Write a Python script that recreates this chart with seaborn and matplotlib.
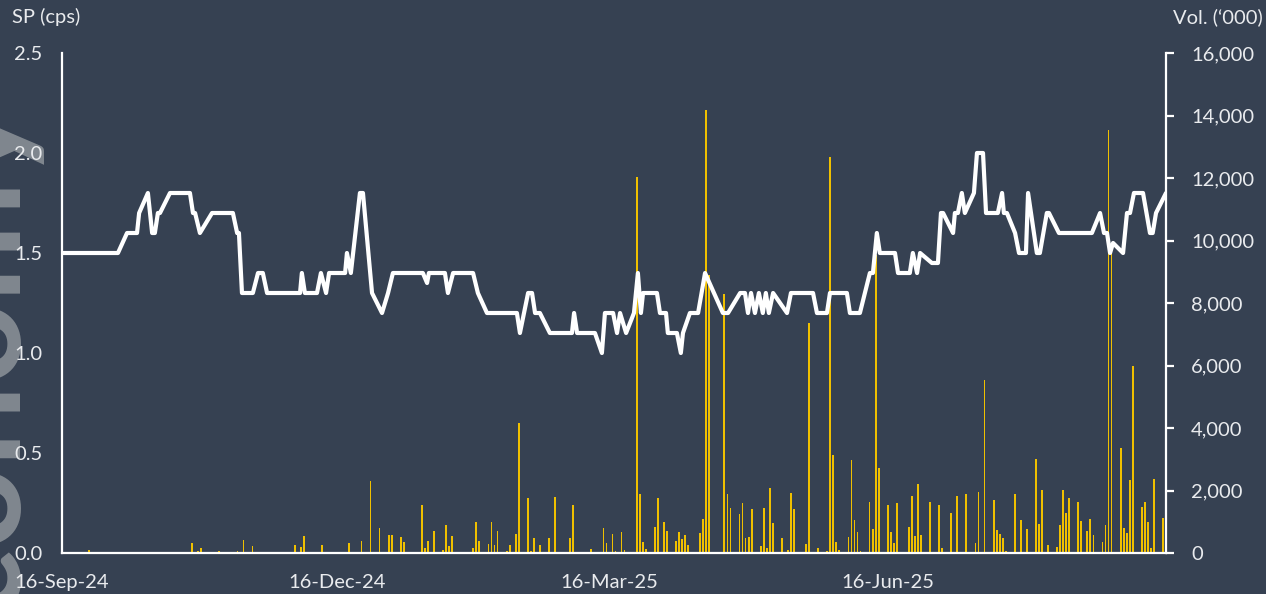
import numpy as np
import pandas as pd
import matplotlib
matplotlib.use("Agg")
import matplotlib.pyplot as plt
import seaborn as sns

# ---------------- data ----------------
start_date = "2024-09-16"

# share price vertices: day offset from 16-Sep-24, price in cents
price_day = [0, 18.5, 21.5, 24.8, 25.5, 28.4, 29.8, 30.7, 31.7, 32.4, 35.7, 42.3, 43.3, 44.0,
             45.6, 49.6, 56.5, 57.9, 58.5, 59.5, 63.1, 64.8, 66.4, 67.8, 78.7, 79.3, 80.3,
             84.3, 85.6, 87.3, 88.3, 93.6, 94.2, 95.5, 98.5, 99.5, 102.5, 105.8, 107.8,
             109.4, 119.3, 120.7, 121.3, 126.6, 127.6, 129.3, 135.9, 137.5, 140.5, 150.4,
             151.4, 154.1, 155.4, 156.4, 158.0, 161.3, 168.6, 169.3, 170.3, 176.2, 178.5,
             179.5, 182.2, 183.5, 184.5, 186.5, 189.1, 190.4, 191.4, 192.1, 196.7, 197.7,
             199.7, 200.3, 203.3, 204.6, 205.3, 207.6, 210.3, 212.6, 218.5, 220.2, 224.2,
             225.8, 226.8, 227.8, 229.1, 230.4, 231.7, 232.7, 233.7, 235.1, 239.7, 241.0,
             248.3, 249.6, 252.9, 253.9, 259.5, 260.5, 263.8, 267.1, 268.1, 269.4, 270.4,
             275.4, 276.4, 280.3, 281.3, 282.7, 283.7, 287.6, 289.6, 290.6, 291.3, 294.6,
             295.2, 296.2, 297.5, 298.5, 301.5, 302.5, 304.5, 305.5, 309.4, 310.8, 311.4,
             312.4, 315.1, 316.4, 318.7, 319.4, 322.3, 323.3, 325.6, 326.3, 329.6, 340.5,
             343.2, 344.5, 345.5, 346.5, 347.5, 350.8, 352.1, 353.1, 354.4, 357.4, 359.7,
             360.6, 361.7, 365.0]
price_cps = [1.5, 1.5, 1.6, 1.6, 1.7, 1.8, 1.6, 1.6, 1.7, 1.7, 1.8, 1.8, 1.7, 1.7,
             1.6, 1.7, 1.7, 1.6, 1.6, 1.3, 1.3, 1.4, 1.4, 1.3, 1.3, 1.4, 1.3,
             1.3, 1.4, 1.3, 1.4, 1.4, 1.5, 1.4, 1.8, 1.8, 1.3, 1.2, 1.3,
             1.4, 1.4, 1.35, 1.4, 1.4, 1.3, 1.4, 1.4, 1.3, 1.2, 1.2,
             1.1, 1.3, 1.3, 1.2, 1.2, 1.1, 1.1, 1.2, 1.1, 1.1, 1.0,
             1.2, 1.2, 1.1, 1.2, 1.1, 1.2, 1.4, 1.2, 1.3, 1.3, 1.2,
             1.2, 1.1, 1.1, 1.0, 1.1, 1.2, 1.2, 1.4, 1.2, 1.2, 1.3,
             1.3, 1.2, 1.3, 1.2, 1.3, 1.2, 1.3, 1.2, 1.3, 1.2, 1.3,
             1.3, 1.2, 1.2, 1.3, 1.3, 1.2, 1.2, 1.4, 1.4, 1.6, 1.5,
             1.5, 1.4, 1.4, 1.5, 1.4, 1.5, 1.45, 1.45, 1.7, 1.7, 1.6,
             1.7, 1.7, 1.8, 1.7, 1.8, 2.0, 2.0, 1.7, 1.7, 1.8, 1.7,
             1.7, 1.6, 1.5, 1.5, 1.8, 1.5, 1.5, 1.7, 1.7, 1.6, 1.6,
             1.7, 1.6, 1.6, 1.5, 1.55, 1.5, 1.7, 1.7, 1.8, 1.8, 1.6,
             1.6, 1.7, 1.8]

# daily volume ('000 shares): day offset and volume
vol_day = [0, 9, 25, 28, 43, 45, 46, 50, 52, 58, 60, 63, 77, 79, 80, 86, 95, 99, 102, 105,
           108, 109, 112, 113, 119, 120, 121, 123, 126, 127, 128, 129, 136, 137, 138, 141,
           142, 143, 144, 147, 148, 150, 151, 154, 155, 156, 158, 161, 163, 168, 169, 175,
           179, 180, 182, 183, 185, 186, 190, 191, 192, 193, 196, 197, 199, 200, 203, 204,
           205, 206, 207, 211, 212, 213, 214, 219, 220, 221, 224, 225, 226, 227, 228, 231,
           232, 233, 234, 235, 238, 240, 241, 242, 246, 247, 250, 253, 254, 255, 256, 257,
           260, 261, 262, 263, 264, 267, 268, 269, 270, 273, 274, 275, 276, 280, 281, 282,
           283, 284, 287, 289, 290, 291, 294, 296, 299, 302, 303, 305, 308, 309, 310, 311,
           312, 315, 317, 319, 322, 323, 324, 326, 329, 330, 331, 332, 333, 336, 337, 339,
           340, 341, 344, 345, 346, 347, 350, 351, 352, 353, 354, 357, 358, 359, 360, 361,
           364]
vol_k = [40, 90, 30, 30, 320, 60, 160, 30, 60, 50, 430, 230, 260, 190, 550, 270, 320, 400,
         2300, 800, 590, 590, 510, 340, 1540, 160, 370, 700, 90, 900, 230, 530, 160, 1000,
         400, 300, 1000, 270, 700, 60, 270, 610, 4160, 1760, 60, 480, 270, 480, 1790, 480,
         1540, 130, 800, 320, 620, 60, 670, 100, 12030, 1890, 340, 130, 820, 1760, 990, 700,
         380, 670, 450, 580, 260, 640, 1090, 14180, 8900, 8290, 1890, 1440, 1250, 1600, 480,
         510, 1400, 220, 1440, 160, 2080, 960, 480, 100, 1920, 1400, 290, 7360, 150, 60,
         12670, 3140, 340, 100, 510, 2980, 1060, 670, 80, 1630, 770, 9540, 2720, 1540, 670,
         320, 1600, 830, 1820, 540, 2200, 570, 1630, 40, 1540, 160, 1280, 1820, 1890, 320,
         1950, 5540, 1700, 740, 610, 480, 50, 1890, 1060, 770, 3010, 930, 2020, 260, 200,
         900, 2020, 1280, 1760, 1630, 1020, 700, 1090, 580, 350, 900, 13540, 9700, 3360,
         800, 640, 2340, 5990, 1480, 1630, 990, 160, 2370, 1120]

tick_dates = ["2024-09-16", "2024-12-16", "2025-03-16", "2025-06-16", "2025-09-16"]
tick_labels = ["16-Sep-24", "16-Dec-24", "16-Mar-25", "16-Jun-25", ""]
vol_ticks = [0, 2000, 4000, 6000, 8000, 10000, 12000, 14000, 16000]
price_ticks = [0.0, 0.5, 1.0, 1.5, 2.0, 2.5]

left_label = "SP (cps)"
right_label = "Vol. (\u2018000)"
watermark = "Economy"

# ---------------- style ----------------
BG = "#364152"
FG = "#e9ebee"
GOLD = "#f0c000"

sns.set_theme(style="white")
plt.rcParams["font.family"] = ["Lato", "DejaVu Sans"]

t0 = pd.Timestamp(start_date)
price_df = pd.DataFrame({"date": t0 + pd.to_timedelta(price_day, unit="D"),
                         "price": price_cps})
vol_df = pd.DataFrame({"date": t0 + pd.to_timedelta(vol_day, unit="D"),
                       "vol": vol_k})

fig = plt.figure(figsize=(12.66, 5.94), dpi=100, facecolor=BG)

# watermark (partly off the left edge, behind everything)
fig.text(0.026, 0.845, watermark, rotation=90, fontsize=104, color="#80878f",
         fontweight="bold", ha="right", va="top", zorder=-5)

ax_v = fig.add_axes([62/1266, 41/594, 1104/1266, 500/594])
ax_v.set_facecolor("none")
ax_v.bar(vol_df["date"], vol_df["vol"], width=0.6, color=GOLD, linewidth=0, zorder=2)

ax_p = ax_v.twinx()
sns.lineplot(data=price_df, x="date", y="price", ax=ax_p, color="white",
             linewidth=3.0, zorder=3)

# volume axis on the right
ax_v.yaxis.tick_right()
ax_v.set_ylim(0, 16000)
ax_v.set_yticks(vol_ticks)
ax_v.set_yticklabels([f"{v:,}" for v in vol_ticks])
ax_v.set_ylabel("")

# price axis on the left
ax_p.yaxis.tick_left()
ax_p.set_ylim(0, 2.5)
ax_p.set_yticks(price_ticks)
ax_p.set_yticklabels([f"{v:.1f}" for v in price_ticks])
ax_p.set_xlabel("")
ax_p.set_ylabel("")

xmin, xmax = pd.Timestamp(tick_dates[0]), pd.Timestamp(tick_dates[-1])
for a in (ax_v, ax_p):
    a.set_xlim(xmin, xmax)
    a.set_xticks(pd.to_datetime(tick_dates))
    a.set_xticklabels(tick_labels)
    for s in a.spines.values():
        s.set_visible(False)

for s in ("bottom", "right", "left"):
    ax_v.spines[s].set_visible(True)
    ax_v.spines[s].set_color("white")
    ax_v.spines[s].set_linewidth(1.6)

ax_v.tick_params(axis="x", colors="white", labelcolor=FG, labelsize=14.5,
                 length=6, width=1.6, direction="out", pad=9)
ax_v.tick_params(axis="y", colors="white", labelcolor=FG, labelsize=14.5,
                 length=6, width=1.6, direction="out", pad=12,
                 left=False, labelleft=False, right=True, labelright=True)
ax_p.tick_params(axis="y", labelcolor=FG, labelsize=14.5, length=0, pad=14,
                 left=True, labelleft=True, right=False, labelright=False)
ax_p.tick_params(axis="x", bottom=False, labelbottom=False)

fig.text(12/1266, 1 - 17/594, left_label, color=FG, fontsize=14.5, ha="left", va="center")
fig.text(1263/1266, 1 - 17/594, right_label, color=FG, fontsize=14.5, ha="right", va="center")

fig.savefig("out.png", dpi=100, facecolor=BG)
